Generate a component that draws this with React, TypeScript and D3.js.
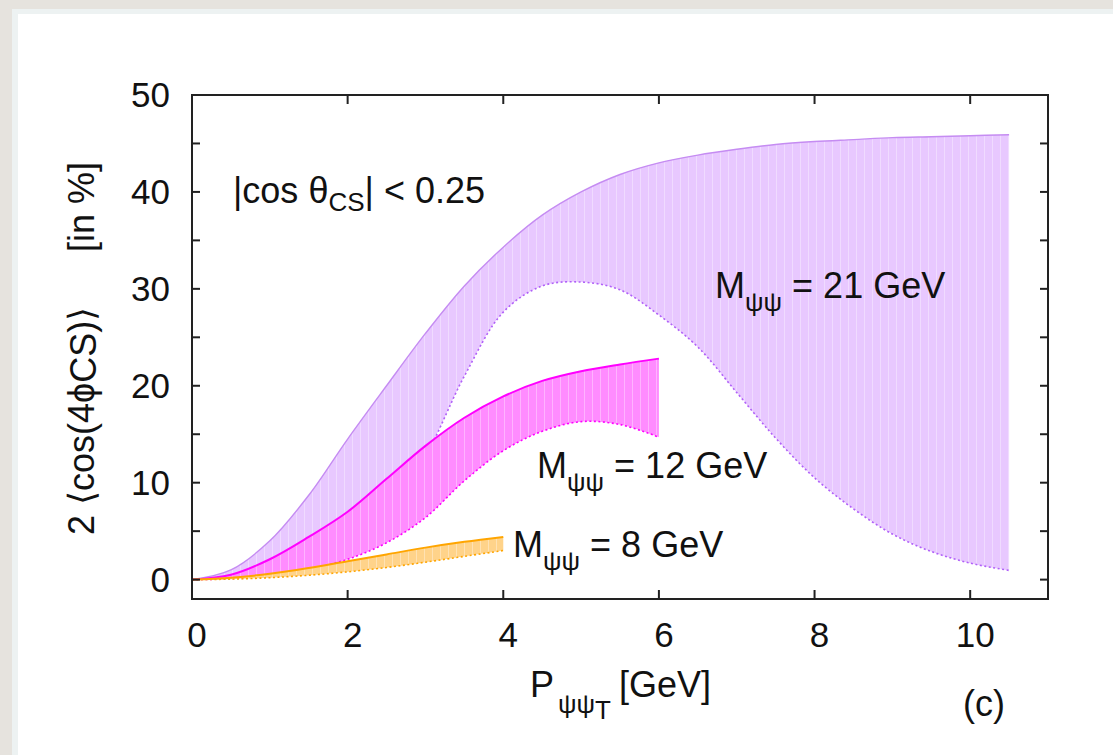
import React from "react";
import * as d3 from "d3";

const W = 1113;
const H = 755;

const xTicks = [0, 2, 4, 6, 8, 10];
const yTicks = [0, 10, 20, 30, 40, 50];
const yMinorTicks = [0, 5, 10, 15, 20, 25, 30, 35, 40, 45, 50];

// M = 21 GeV band
const p21 = [0, 0.5, 1, 1.5, 2, 2.5, 3, 3.5, 4, 4.5, 5, 5.5, 6, 6.5, 7, 7.5, 8, 8.5, 9, 9.5, 10, 10.5];
const up21 = [0, 1.0, 4.0, 8.7, 14.5, 20.0, 25.4, 30.3, 34.3, 37.6, 40.0, 41.8, 43.0, 43.8, 44.4, 44.9, 45.2, 45.4, 45.6, 45.7, 45.8, 45.9];
const lo21 = [0, 0.2, 0.8, 2.0, 4.0, 7.5, 12.8, 21.0, 27.6, 30.3, 30.7, 29.9, 27.3, 24.0, 19.3, 14.6, 10.5, 7.3, 4.7, 2.9, 1.7, 0.95];

// M = 12 GeV band
const p12 = [0, 0.5, 1, 1.5, 2, 2.5, 3, 3.5, 4, 4.5, 5, 5.5, 6];
const up12 = [0, 0.5, 2.1, 4.4, 7.0, 10.4, 13.8, 16.7, 18.9, 20.5, 21.5, 22.2, 22.8];
const lo12 = [0, 0.1, 0.5, 1.1, 2.1, 3.8, 6.4, 10.2, 13.3, 15.3, 16.3, 16.0, 14.7];

// M = 8 GeV band
const p8 = [0, 0.5, 1, 1.5, 2, 2.5, 3, 3.5, 4];
const up8 = [0, 0.2, 0.6, 1.2, 1.9, 2.6, 3.3, 3.9, 4.4];
const lo8 = [0, 0.05, 0.2, 0.45, 0.8, 1.25, 1.8, 2.4, 3.0];

const bands = [
  { id: "b21", x: p21, up: up21, lo: lo21, fill: "#e8c8ff", upStroke: "#c58cf2", loStroke: "#b060f8" },
  { id: "b12", x: p12, up: up12, lo: lo12, fill: "#ff8cff", upStroke: "#ff00ff", loStroke: "#ff00ff" },
  { id: "b8", x: p8, up: up8, lo: lo8, fill: "#ffd38a", upStroke: "#ffa500", loStroke: "#ffa500" },
];

const FONT = "'Liberation Sans', Arial, Helvetica, sans-serif";

export default function App() {
  const left = 192, right = 1048, top = 95, bottom = 599;
  const x = d3.scaleLinear().domain([0, 11]).range([left, right]);
  const y = d3.scaleLinear().domain([-2, 50]).range([bottom, top]);

  const area = d3
    .area<[number, number, number]>()
    .x((d) => x(d[0]))
    .y0((d) => y(d[2]))
    .y1((d) => y(d[1]))
    .curve(d3.curveCatmullRom.alpha(0.5));
  const line = d3
    .line<[number, number]>()
    .x((d) => x(d[0]))
    .y((d) => y(d[1]))
    .curve(d3.curveCatmullRom.alpha(0.5));

  const fs = 35;
  const afs = 36;
  const sub = 26;

  return (
    <svg
      width={W}
      height={H}
      style={{ position: "absolute", left: 0, top: 0, display: "block" }}
      fontFamily={FONT}
    >
      <defs>
        <pattern id="stripes" width="8" height="10" patternUnits="userSpaceOnUse">
          <rect x="0" y="0" width="1" height="10" fill="#ffffff" opacity="0.35" />
        </pattern>
      </defs>
      <rect x={0} y={0} width={W} height={H} fill="#e6e3de" />
      <rect x={12} y={9} width={W} height={H} fill="#edf2f2" />
      <rect x={18} y={14} width={W} height={H} fill="#ffffff" />

      {bands.map((b) => {
        const pts: [number, number, number][] = b.x.map((v, i) => [v, b.up[i], b.lo[i]]);
        const upPts: [number, number][] = b.x.map((v, i) => [v, b.up[i]]);
        const loPts: [number, number][] = b.x.map((v, i) => [v, b.lo[i]]);
        return (
          <g key={b.id}>
            <path d={area(pts) || ""} fill={b.fill} />
            <path d={area(pts) || ""} fill="url(#stripes)" />
            <path d={line(loPts) || ""} fill="none" stroke={b.loStroke} strokeWidth={1.6} strokeDasharray="2,2.5" />
            <path d={line(upPts) || ""} fill="none" stroke={b.upStroke} strokeWidth={b.id === "b21" ? 1.4 : 2} />
          </g>
        );
      })}

      {/* frame */}
      <rect x={left} y={top} width={right - left} height={bottom - top} fill="none" stroke="#222" strokeWidth={2} />
      {xTicks.map((t) => (
        <g key={"xt" + t}>
          <line x1={x(t)} x2={x(t)} y1={bottom} y2={bottom - 9} stroke="#222" strokeWidth={2} />
          <line x1={x(t)} x2={x(t)} y1={top} y2={top + 9} stroke="#222" strokeWidth={2} />
          <text x={x(t) + 5} y={647} fontSize={fs} textAnchor="middle" fill="#111">
            {t}
          </text>
        </g>
      ))}
      {yMinorTicks.map((t) => (
        <g key={"yt" + t}>
          <line x1={left} x2={left + 8} y1={y(t)} y2={y(t)} stroke="#222" strokeWidth={2} />
          <line x1={right} x2={right - 8} y1={y(t)} y2={y(t)} stroke="#222" strokeWidth={2} />
        </g>
      ))}
      {yTicks.map((t) => (
        <text key={"yl" + t} x={170} y={y(t) + 12} fontSize={fs} textAnchor="end" fill="#111">
          {t}
        </text>
      ))}

      {/* y label */}
      <text transform="translate(94,535) rotate(-90)" fontSize={afs} fill="#111">
        <tspan>2 ⟨cos(4ϕ</tspan>
        <tspan dy={2}>CS</tspan>
        <tspan dy={-2}>)⟩</tspan>
      </text>
      <text transform="translate(94,252) rotate(-90)" fontSize={afs} fill="#111">
        [in %]
      </text>

      {/* x label */}
      <text x={530} y={697} fontSize={afs} fill="#111">
        <tspan>P</tspan>
        <tspan dx={4} dy={16} fontSize={sub}>ψψ</tspan>
        <tspan dy={6} fontSize={sub}>T</tspan>
        <tspan dx={8} dy={-22}>[GeV]</tspan>
      </text>
      <text x={963} y={716} fontSize={afs} fill="#111">
        (c)
      </text>

      {/* annotations */}
      <text x={233} y={203} fontSize={afs} fill="#111">
        <tspan>|cos θ</tspan>
        <tspan dy={8} fontSize={sub}>CS</tspan>
        <tspan dy={-8}>| &lt; 0.25</tspan>
      </text>
      <text x={715} y={298} fontSize={afs} fill="#111">
        <tspan>M</tspan>
        <tspan dy={13} fontSize={sub}>ψψ</tspan>
        <tspan dy={-13}> = 21 GeV</tspan>
      </text>
      <text x={537} y={478} fontSize={afs} fill="#111">
        <tspan>M</tspan>
        <tspan dy={13} fontSize={sub}>ψψ</tspan>
        <tspan dy={-13}> = 12 GeV</tspan>
      </text>
      <text x={513} y={557} fontSize={afs} fill="#111">
        <tspan>M</tspan>
        <tspan dy={13} fontSize={sub}>ψψ</tspan>
        <tspan dy={-13}> = 8 GeV</tspan>
      </text>
    </svg>
  );
}
